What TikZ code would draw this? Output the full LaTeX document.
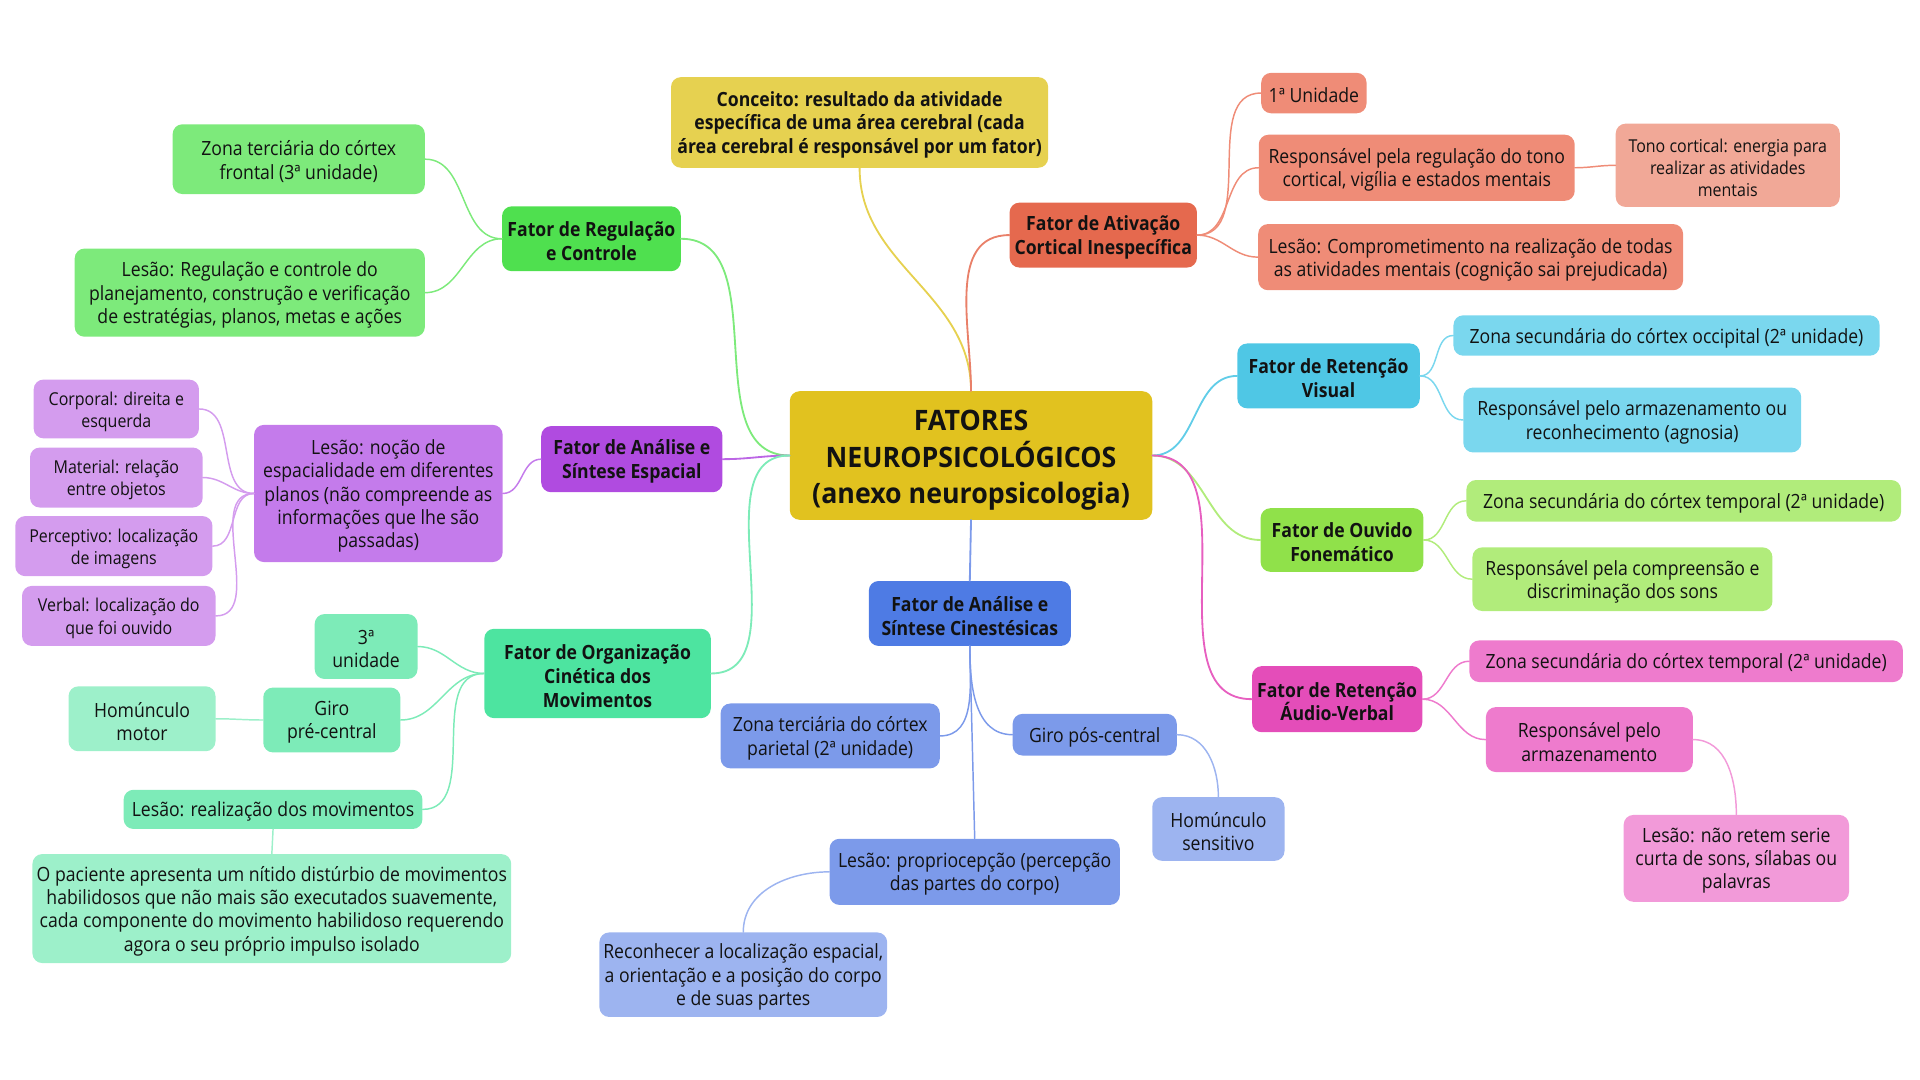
\documentclass[tikz,border=0pt]{standalone}
\usepackage{fontspec}
\setmainfont{Open Sans}
\newfontfamily\cond[FakeStretch=0.9]{Open Sans}
\newfontfamily\semi[FakeStretch=0.95]{Open Sans}
\definecolor{cen}{HTML}{E1C21F}
\definecolor{ccon}{HTML}{E6D150}
\definecolor{atv}{HTML}{E5694E}
\definecolor{atvc}{HTML}{EF8C77}
\definecolor{atvl}{HTML}{F1A897}
\definecolor{reg}{HTML}{4FE04F}
\definecolor{regc}{HTML}{7DEA7B}
\definecolor{esp}{HTML}{B04BE0}
\definecolor{espc}{HTML}{C47BEB}
\definecolor{espl}{HTML}{D49CEE}
\definecolor{org}{HTML}{4DE4A0}
\definecolor{orgc}{HTML}{7DEBB8}
\definecolor{orgl}{HTML}{9DF0CA}
\definecolor{cin}{HTML}{4E7BE4}
\definecolor{cinc}{HTML}{7C9AEA}
\definecolor{cinl}{HTML}{9DB4F0}
\definecolor{vis}{HTML}{4FC7E5}
\definecolor{visc}{HTML}{7AD7EE}
\definecolor{ouv}{HTML}{90E14A}
\definecolor{ouvc}{HTML}{B1EC7B}
\definecolor{aud}{HTML}{E44DB9}
\definecolor{audc}{HTML}{EE7BCD}
\definecolor{audl}{HTML}{F29AD9}
\definecolor{ink}{HTML}{121212}
\tikzset{
  shapebox/.style={rounded corners=8pt, inner sep=0pt},
  box/.style={align=center, inner sep=0pt, text=ink,
    font=\cond\fontsize{16}{19}\selectfont},
  mainbox/.style={box, font=\cond\bfseries\fontsize{16}{19.5}\selectfont},
  smallbox/.style={box, font=\cond\fontsize{14.5}{18}\selectfont},
  cenbox/.style={box, font=\semi\bfseries\fontsize{23}{30}\selectfont},
  conn/.style={line width=1.5pt, line cap=round},
  subconn/.style={line width=1.2pt, line cap=round},
}
% #1 text style, #2 fill, #3 x, #4 y, #5 width, #6 height, #7 name, #8 text
\newcommand{\bx}[8]{%
  \node[shapebox, fill=#2, minimum width=#5pt, minimum height=#6pt] (#7) at (#3,#4) {};
  \node[#1] (#7-t) at (#3,#4+2) {#8};}
\begin{document}
\begin{tikzpicture}[x=1pt,y=-1pt]
\useasboundingbox (0,0) rectangle (1568,882);
% central
\node[shapebox, fill=cen, minimum width=296pt, minimum height=105pt] (c) at (793,372) {};
\node[cenbox] (c-t) at (793,376) {FATORES\\NEUROPSICOLÓGICOS\\(anexo neuropsicologia)};
% conceito
\bx{mainbox}{ccon}{702}{100}{308}{74}{con}{Conceito: resultado da atividade\\específica de uma área cerebral (cada\\área cerebral é responsável por um fator)}
% ativacao
\bx{mainbox}{atv}{901}{192}{153}{53}{atv}{Fator de Ativação\\Cortical Inespecífica}
\bx{box}{atvc}{1073}{76}{86}{33}{a1}{1ª Unidade}
\bx{box}{atvc}{1157}{137}{258}{54}{a2}{Responsável pela regulação do tono\\cortical, vigília e estados mentais}
\bx{smallbox}{atvl}{1411}{135}{183}{68}{a2a}{Tono cortical: energia para\\realizar as atividades\\mentais}
\bx{box}{atvc}{1201}{210}{347}{54}{a3}{Lesão: Comprometimento na realização de todas\\as atividades mentais (cognição sai prejudicada)}
% regulacao
\bx{mainbox}{reg}{483}{195}{146}{53}{reg}{Fator de Regulação\\e Controle}
\bx{box}{regc}{244}{130}{206}{57}{r1}{Zona terciária do córtex\\frontal (3ª unidade)}
\bx{box}{regc}{204}{239}{286}{72}{r2}{Lesão: Regulação e controle do\\planejamento, construção e verificação\\de estratégias, planos, metas e ações}
% espacial
\bx{mainbox}{esp}{516}{375}{148}{54}{esp}{Fator de Análise e\\Síntese Espacial}
\bx{box}{espc}{309}{403}{203}{112}{e1}{Lesão: noção de\\espacialidade em diferentes\\planos (não compreende as\\informações que lhe são\\passadas)}
\bx{smallbox}{espl}{95}{334}{135}{48}{e1a}{Corporal: direita e\\esquerda}
\bx{smallbox}{espl}{95}{390}{141}{49}{e1b}{Material: relação\\entre objetos}
\bx{smallbox}{espl}{93}{446}{161}{49}{e1c}{Perceptivo: localização\\de imagens}
\bx{smallbox}{espl}{97}{503}{158}{49}{e1d}{Verbal: localização do\\que foi ouvido}
% organizacao
\bx{mainbox}{org}{488}{550}{185}{73}{org}{Fator de Organização\\Cinética dos\\Movimentos}
\bx{box}{orgc}{299}{528}{84}{53}{o1}{3ª\\unidade}
\bx{box}{orgc}{271}{588}{112}{53}{o2}{Giro\\pré-central}
\bx{box}{orgl}{116}{587}{120}{53}{o2a}{Homúnculo\\motor}
\bx{box}{orgc}{223}{661}{244}{32}{o3}{Lesão: realização dos movimentos}
\bx{box}{orgl}{222}{742}{391}{89}{o3a}{O paciente apresenta um nítido distúrbio de movimentos\\habilidosos que não mais são executados suavemente,\\cada componente do movimento habilidoso requerendo\\agora o seu próprio impulso isolado}
% cinestesicas
\bx{mainbox}{cin}{792}{501}{165}{53}{cin}{Fator de Análise e\\Síntese Cinestésicas}
\bx{box}{cinc}{678}{601}{179}{53}{k1}{Zona terciária do córtex\\parietal (2ª unidade)}
\bx{box}{cinc}{894}{600}{134}{34}{k2}{Giro pós-central}
\bx{box}{cinl}{995}{677}{108}{52}{k2a}{Homúnculo\\sensitivo}
\bx{box}{cinc}{796}{712}{237}{54}{k3}{Lesão: propriocepção (percepção\\das partes do corpo)}
\bx{box}{cinl}{607}{796}{235}{69}{k3a}{Reconhecer a localização espacial,\\a orientação e a posição do corpo\\e de suas partes}
% visual
\bx{mainbox}{vis}{1085}{307}{149}{53}{vis}{Fator de Retenção\\Visual}
\bx{box}{visc}{1361}{274}{348}{33}{v1}{Zona secundária do córtex occipital (2ª unidade)}
\bx{box}{visc}{1333}{343}{276}{53}{v2}{Responsável pelo armazenamento ou\\reconhecimento (agnosia)}
% ouvido
\bx{mainbox}{ouv}{1096}{441}{133}{52}{ouv}{Fator de Ouvido\\Fonemático}
\bx{box}{ouvc}{1375}{409}{355}{34}{f1}{Zona secundária do córtex temporal (2ª unidade)}
\bx{box}{ouvc}{1325}{473}{245}{52}{f2}{Responsável pela compreensão e\\discriminação dos sons}
% audio
\bx{mainbox}{aud}{1092}{571}{139}{54}{aud}{Fator de Retenção\\Áudio-Verbal}
\bx{box}{audc}{1377}{540}{354}{34}{u1}{Zona secundária do córtex temporal (2ª unidade)}
\bx{box}{audc}{1298}{604}{169}{53}{u2}{Responsável pelo\\armazenamento}
\bx{box}{audl}{1418}{701}{184}{71}{u2a}{Lesão: não retem serie\\curta de sons, sílabas ou\\palavras}
% connectors from central
\draw[conn, draw=ccon] (c.north) to[out=90,in=-90] (con.south);
\draw[conn, draw=atv!85] (c.north) to[out=90,in=180] (atv.west);
\draw[conn, draw=regc] (c.west) to[out=180,in=0] (reg.east);
\draw[conn, draw=esp!85] (c.west) to[out=180,in=0] (esp.east);
\draw[conn, draw=orgc] (c.west) to[out=180,in=0] (org.east);
\draw[conn, draw=cinc] (c.south) -- (cin.north);
\draw[conn, draw=vis!90] (c.east) to[out=0,in=180] (vis.west);
\draw[conn, draw=ouvc] (c.east) to[out=0,in=180] (ouv.west);
\draw[conn, draw=aud!90] (c.east) to[out=0,in=180] (aud.west);
% secondary
\draw[subconn, draw=atvc] (atv.east) to[out=0,in=180] (a1.west);
\draw[subconn, draw=atvc] (atv.east) to[out=0,in=180] (a2.west);
\draw[subconn, draw=atvc] (atv.east) to[out=0,in=180] (a3.west);
\draw[subconn, draw=atvc] (a2.east) to[out=0,in=180] (a2a.west);
\draw[subconn, draw=regc] (reg.west) to[out=180,in=0] (r1.east);
\draw[subconn, draw=regc] (reg.west) to[out=180,in=0] (r2.east);
\draw[subconn, draw=espc] (esp.west) to[out=180,in=0] (e1.east);
\draw[subconn, draw=espl] (e1.west) to[out=180,in=0] (e1a.east);
\draw[subconn, draw=espl] (e1.west) to[out=180,in=0] (e1b.east);
\draw[subconn, draw=espl] (e1.west) to[out=180,in=0] (e1c.east);
\draw[subconn, draw=espl] (e1.west) to[out=180,in=0] (e1d.east);
\draw[subconn, draw=orgc] (org.west) to[out=180,in=0] (o1.east);
\draw[subconn, draw=orgc] (org.west) to[out=180,in=0] (o2.east);
\draw[subconn, draw=orgc] (org.west) to[out=180,in=0] (o3.east);
\draw[subconn, draw=orgl] (o2.west) to[out=180,in=0] (o2a.east);
\draw[subconn, draw=orgl] (o3.south) -- (o3a.north);
\draw[subconn, draw=cinc] (cin.south) to[out=-90,in=0] (k1.east);
\draw[subconn, draw=cinc] (cin.south) to[out=-90,in=180] (k2.west);
\draw[subconn, draw=cinc] (cin.south) -- (k3.north);
\draw[subconn, draw=cinl] (k2.east) to[out=0,in=90] (k2a.north);
\draw[subconn, draw=cinl] (k3.west) to[out=180,in=90] (k3a.north);
\draw[subconn, draw=visc] (vis.east) to[out=0,in=180] (v1.west);
\draw[subconn, draw=visc] (vis.east) to[out=0,in=180] (v2.west);
\draw[subconn, draw=ouvc] (ouv.east) to[out=0,in=180] (f1.west);
\draw[subconn, draw=ouvc] (ouv.east) to[out=0,in=180] (f2.west);
\draw[subconn, draw=audc] (aud.east) to[out=0,in=180] (u1.west);
\draw[subconn, draw=audc] (aud.east) to[out=0,in=180] (u2.west);
\draw[subconn, draw=audl] (u2.east) to[out=0,in=90] (u2a.north);
\end{tikzpicture}
\end{document}
